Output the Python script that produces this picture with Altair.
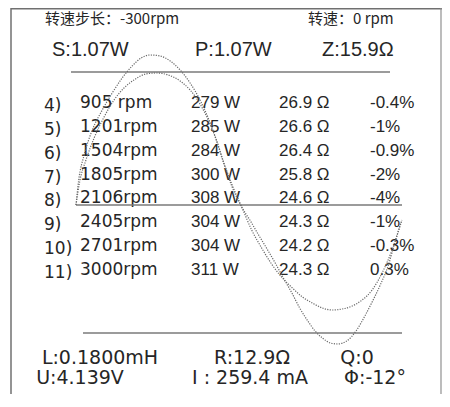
import altair as alt
import pandas as pd

# ---------------- data ----------------
header_texts = ["转速步长：-300rpm", "转速：0 rpm"]
power_texts = ["S:1.07W", "P:1.07W", "Z:15.9Ω"]
lcr_texts = ["L:0.1800mH", "R:12.9Ω", "Q:0"]
ui_texts = ["U:4.139V", "I : 259.4 mA", "Φ:-12°"]

row_numbers = [4, 5, 6, 7, 8, 9, 10, 11]
speeds = ["905 rpm", "1201rpm", "1504rpm", "1805rpm", "2106rpm", "2405rpm", "2701rpm", "3000rpm"]
powers_w = [279, 285, 284, 300, 308, 304, 304, 311]
impedances = [26.9, 26.6, 26.4, 25.8, 24.6, 24.3, 24.2, 24.3]
deviations = ["-0.4%", "-1%", "-0.9%", "-2%", "-4%", "-1%", "-0.3%", "0.3%"]

# waveform traces (phase in degrees, amplitude in display units)
phase_a = [0, 3, 9, 18, 29, 40, 51, 62, 72, 82, 93, 104, 115, 126, 137, 146, 155, 163, 172, 183,
           192, 201, 211, 220, 229, 239, 247, 256, 264, 272, 281, 289, 299, 310, 319, 327, 336, 345, 352, 360]
amp_a = [0, 25, 50, 75, 95, 112, 127, 139, 147, 150, 149, 144, 135, 122, 105, 87, 65, 42, 19, -2,
         -15, -29, -44, -58, -73, -89, -103, -116, -126, -133, -138, -139, -136, -125, -111, -97, -80, -60, -38, -15]
phase_b = [0, 4, 11, 20, 31, 42, 53, 64, 77, 89, 102, 115, 126, 137, 146, 155, 163, 172, 183, 194,
           205, 216, 227, 239, 250, 261, 272, 283, 294, 305, 316, 327, 338, 349, 359]
amp_b = [0, 23, 45, 67, 88, 105, 117, 125, 131, 132, 130, 124, 115, 101, 85, 65, 43, 21, -2, -25,
         -43, -59, -72, -83, -92, -98, -103, -105, -104, -101, -95, -85, -68, -45, -17]

# ---------------- layout / style ----------------
W, H = 434, 386
INK = "#262626"
LINE = "#7a7a7a"
LATIN = "Liberation Sans"
WIDE = "DejaVu Sans"
CJK = "Noto Sans CJK SC"

line_y_scale = alt.Scale(domain=[0, 1, 2, 3], range=[11, 42, 350, 370], nice=False, zero=False)


def readout(texts, line, xs, size, font, align):
    df = pd.DataFrame({"slot": list(range(len(texts))), "line": line, "label": texts})
    return alt.Chart(df).mark_text(
        font=font, fontSize=size, align=align, baseline="middle", color=INK
    ).encode(
        x=alt.X("slot:Q", scale=alt.Scale(domain=list(range(len(texts))), range=xs, nice=False, zero=False), axis=None),
        y=alt.Y("line:Q", scale=line_y_scale, axis=None),
        text="label:N",
    )


header = readout(header_texts, 0, [37, 300], 15, CJK, "left")
power = readout(power_texts, 1, [44, 187, 314], 20, LATIN, "left")
lcr = readout(lcr_texts, 2, [92, 244, 349], 19, WIDE, "center")
ui = readout(ui_texts, 3, [72, 242, 367], 19, WIDE, "center")

# ---------------- table ----------------
cols = ["no", "speed", "power", "imp", "dev"]
table_df = pd.DataFrame({
    "row": row_numbers,
    "no": [f"{n})" for n in row_numbers],
    "speed": speeds,
    "power": [f"{w} W" for w in powers_w],
    "imp": [f"{z:.1f} Ω" for z in impedances],
    "dev": deviations,
})
long_df = table_df.melt(id_vars="row", var_name="col", value_name="cell")
long_df["colpos"] = long_df["col"].map({c: i for i, c in enumerate(cols)})

tx = alt.X("colpos:Q", scale=alt.Scale(domain=[0, 1, 2, 3, 4], range=[36, 72, 183, 271, 362], nice=False, zero=False), axis=None)
ty = alt.Y("row:Q", scale=alt.Scale(domain=[4, 11], range=[95, 262], nice=False, zero=False), axis=None)

tbase = alt.Chart(long_df)
t_no = tbase.transform_filter(alt.datum.col == "no").mark_text(
    font=WIDE, fontSize=17, align="left", baseline="middle", color=INK, dy=3).encode(x=tx, y=ty, text="cell:N")
t_speed = tbase.transform_filter(alt.datum.col == "speed").mark_text(
    font=WIDE, fontSize=17, align="left", baseline="middle", color=INK).encode(x=tx, y=ty, text="cell:N")
t_rest = tbase.transform_filter(alt.FieldOneOfPredicate(field="col", oneOf=["power", "imp", "dev"])).mark_text(
    font=LATIN, fontSize=17, align="left", baseline="middle", color=INK).encode(x=tx, y=ty, text="cell:N")
table = alt.layer(t_no, t_speed, t_rest)

# ---------------- waveform ----------------
wave_df = pd.concat([
    pd.DataFrame({"phase": phase_a, "amp": amp_a, "trace": "A"}),
    pd.DataFrame({"phase": phase_b, "amp": amp_b, "trace": "B"}),
], ignore_index=True)

wx_scale = alt.Scale(domain=[0, 360], range=[68, 394], nice=False, zero=False)
wy_scale = alt.Scale(domain=[-150, 150], range=[347, 47], nice=False, zero=False)

waves = alt.Chart(wave_df).mark_line(
    interpolate="monotone", strokeDash=[1.2, 1.3], strokeWidth=1.2, color="#6a6a6a"
).encode(
    x=alt.X("phase:Q", scale=wx_scale, axis=None),
    y=alt.Y("amp:Q", scale=wy_scale, axis=None),
    detail="trace:N",
)
center = alt.Chart(wave_df).mark_rule(color=LINE, strokeWidth=1.6).encode(
    x=alt.X("min(phase):Q", scale=wx_scale, axis=None),
    x2="max(phase):Q",
    y=alt.YDatum(0, scale=wy_scale, axis=None),
)
wave_layer = alt.layer(center, waves)

# ---------------- frame & separators ----------------
frame_left = alt.Chart().mark_rule(color="#707070", strokeWidth=1.5).encode(
    x=alt.value(3), y=alt.value(0), y2=alt.value(H))
frame_top = alt.Chart().mark_rule(color="#707070", strokeWidth=1.5).encode(
    x=alt.value(3), x2=alt.value(W), y=alt.value(0.75))
frame_right = alt.Chart().mark_rule(color="#909090", strokeWidth=1.2).encode(
    x=alt.value(W - 1), y=alt.value(0), y2=alt.value(H))
sep_top = alt.Chart().mark_rule(color=LINE, strokeWidth=1.6).encode(
    x=alt.value(63), x2=alt.value(382), y=alt.value(64))
sep_bottom = alt.Chart().mark_rule(color=LINE, strokeWidth=1.6).encode(
    x=alt.value(75), x2=alt.value(394), y=alt.value(325))

chart = alt.layer(
    frame_left, frame_top, frame_right, sep_top, sep_bottom,
    header, power, lcr, ui, table, wave_layer,
).resolve_scale(
    x="independent", y="independent"
).properties(
    width=W, height=H, padding=0, autosize=alt.AutoSizeParams(type="none"),
    background="white",
).configure_view(stroke=None)

chart.save("out.html", embed_options={"renderer": "svg", "actions": False})
